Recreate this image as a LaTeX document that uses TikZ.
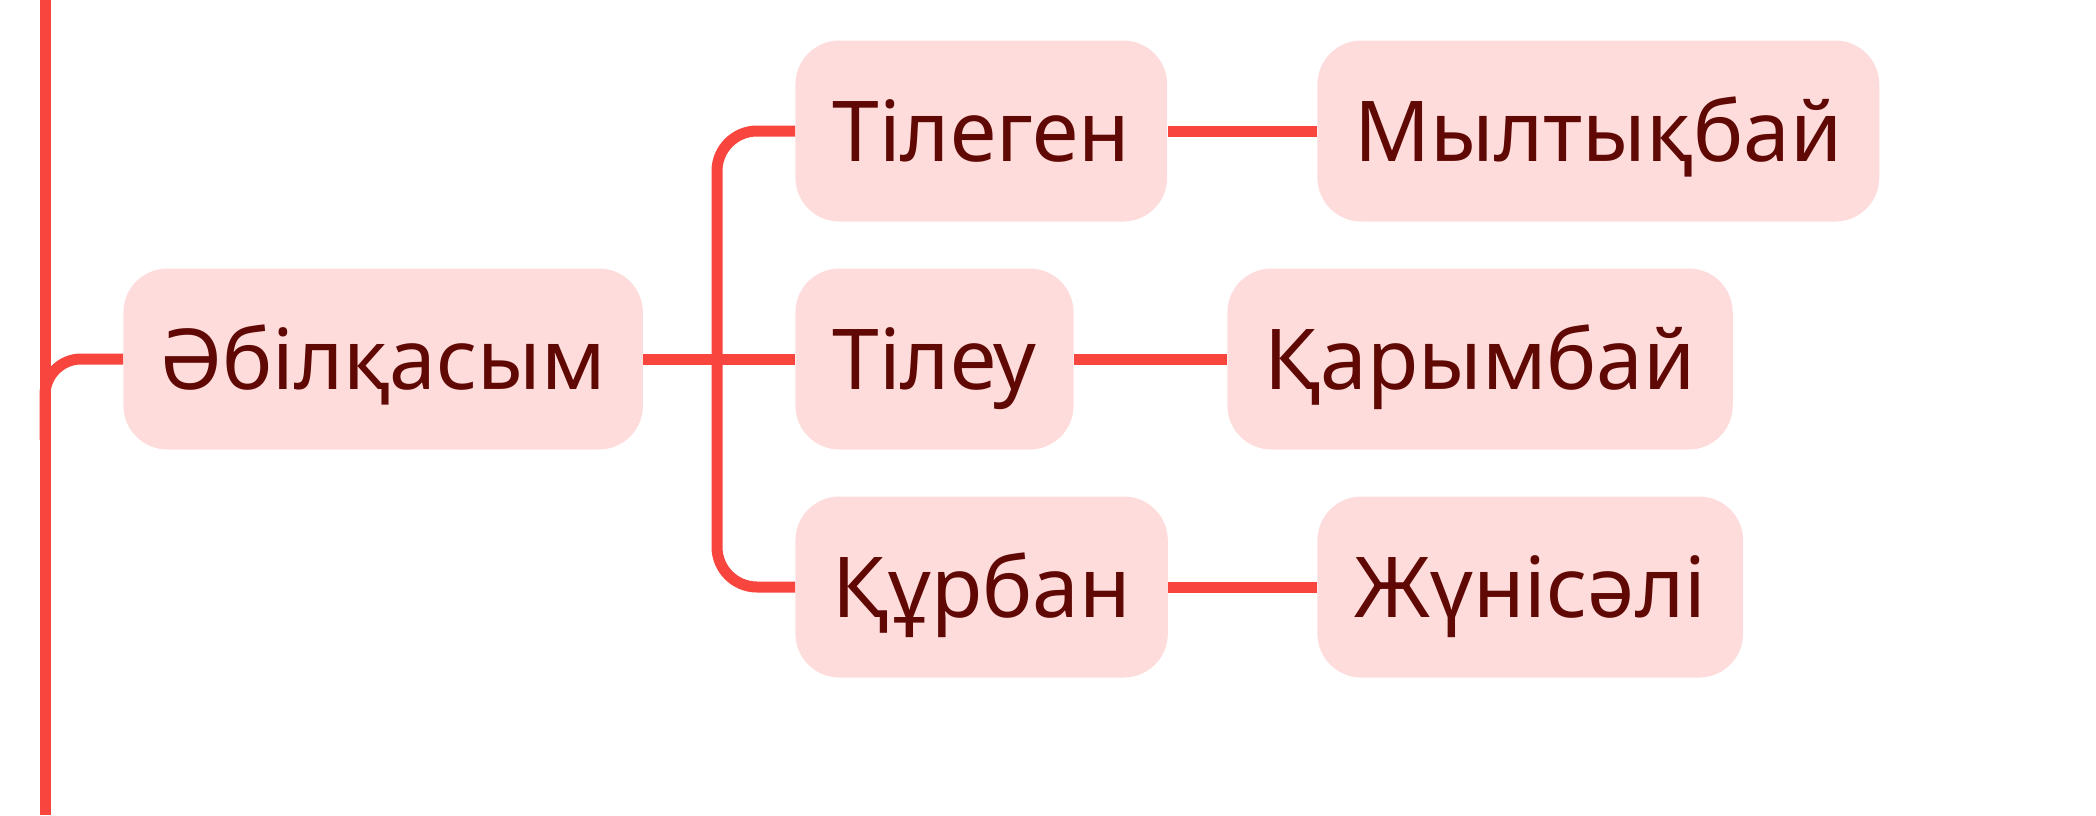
\documentclass[tikz,border=0pt]{standalone}
\usepackage{fontspec}
\setmainfont{Noto Sans}
\definecolor{branch}{RGB}{248,70,62}
\definecolor{boxfill}{RGB}{253,220,219}
\definecolor{boxtext}{RGB}{96,8,4}
\begin{document}
\begin{tikzpicture}[x=0.5pt,y=-0.5pt]
        \useasboundingbox (0,0) rectangle (2096,815);

        \begin{scope}[every node/.style={fill=boxfill, text=boxtext, rounded corners=22pt,
            minimum height=90.5pt, inner xsep=18.5pt, inner ysep=0pt, anchor=west,
            text height=30pt, text depth=0pt, font=\fontsize{42}{50}\selectfont}]
          \node (1)  at (123,359)  {Әбілқасым};
          \node (2)  at (795,131)  {Тілеген};
          \node (3)  at (795,359)  {Тілеу};
          \node (4)  at (795,587)  {Құрбан};
          \node (5)  at (1317,131) {Мылтықбай};
          \node (6)  at (1227,359) {Қарымбай};
          \node (7)  at (1317,587) {Жүнісәлі};
        \end{scope}

        \coordinate (top)    at (45,0);
        \coordinate (bottom) at (45,815);
        \coordinate (trunk)  at (45,440);
        \coordinate (fork)   at (717,359);

        \begin{scope}[line width=5.5pt, color=branch]
          \draw (top) -- (bottom);
          \draw[rounded corners=18pt] (trunk) |- (1.west);
          \draw (1.east) -- (3.west);
          \draw[rounded corners=20pt] (2.west) -| (fork) |- (4.west);
          \draw (2.east) -- (5.west);
          \draw (3.east) -- (6.west);
          \draw (4.east) -- (7.west);
        \end{scope}

      \end{tikzpicture}
\end{document}
